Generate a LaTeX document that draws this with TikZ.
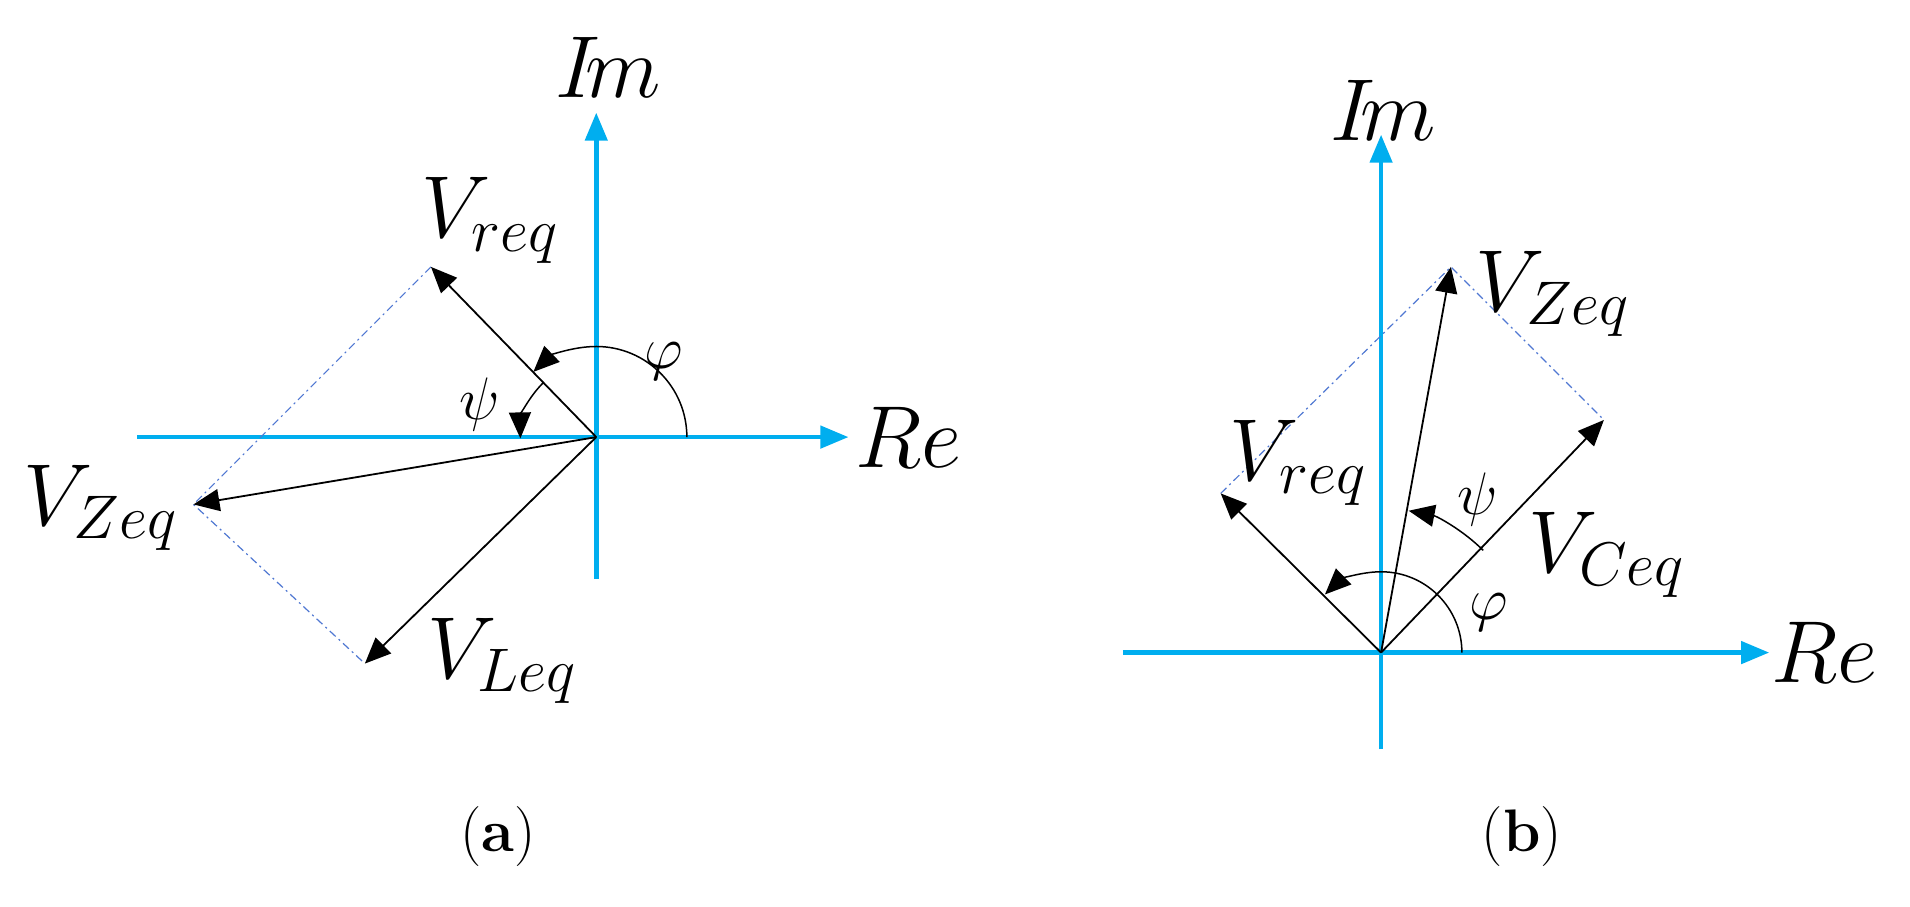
\documentclass[tikz,border=0pt]{standalone}
\usepackage{fix-cm}
\usetikzlibrary{arrows.meta}
\definecolor{axcol}{RGB}{0,174,239}
\definecolor{dshcol}{RGB}{80,120,210}
\begin{document}
\begin{tikzpicture}[x=1.2244pt,y=1.2244pt,
  axis/.style={axcol,line width=4.5pt,-{Triangle[length=28pt,width=22pt]}},
  vec/.style={black,line width=1.8pt,-{Triangle[length=26pt,width=22pt]}},
  arcar/.style={black,line width=1.5pt,-{Triangle[length=26pt,width=22pt]}},
  dshl/.style={dshcol,line width=1.2pt,dash pattern=on 8pt off 4pt on 2pt off 4pt},
  lbl/.style={font=\fontsize{88}{96}\selectfont,inner sep=0pt},
  grk/.style={font=\fontsize{60}{70}\selectfont,inner sep=0pt},
  captxt/.style={font=\fontsize{60}{70}\selectfont,inner sep=0pt}]
\useasboundingbox (0,0) rectangle (1560,740);
% ---------- (a)
\coordinate (Oa) at (487,383);
\coordinate (ImaS) at (487,267); \coordinate (ImaE) at (487,648);
\coordinate (ReaS) at (112,383); \coordinate (ReaE) at (693,383);
\coordinate (Ra) at (352,522); \coordinate (Za) at (158,328); \coordinate (La) at (298,198);
\draw[axis] (ImaS) -- (ImaE);
\draw[axis] (ReaS) -- (ReaE);
\draw[dshl] (Ra) -- (Za) -- (La);
\draw[vec] (Oa) -- (Ra);
\draw[vec] (Oa) -- (Za);
\draw[vec] (Oa) -- (La);
\draw[arcar] ([shift={(0:74)}]Oa) arc[start angle=0,end angle=134,radius=74];
\draw[arcar] ([shift={(134:62)}]Oa) arc[start angle=134,end angle=181,radius=62];
\node[lbl] (ima) at (497,685) {$I\!m$};
\node[lbl] (rea) at (742,383) {$Re$};
\node[lbl] (vra) at (400,560) {$V_{req}$};
\node[lbl] (vza) at (82,325) {$V_{Zeq}$};
\node[lbl] (vla) at (410,200) {$V_{Leq}$};
\node[grk] (psa) at (392,410) {$\psi$};
\node[grk] (pha) at (542,445) {$\varphi$};
\node[captxt] (ca) at (407,57) {(\textbf{a})};
% ---------- (b)
\coordinate (Ob) at (1128,207);
\coordinate (ImbS) at (1128,128); \coordinate (ImbE) at (1128,630);
\coordinate (RebS) at (917,207); \coordinate (RebE) at (1445,207);
\coordinate (Zb) at (1185,522); \coordinate (Cb) at (1310,397); \coordinate (Rb) at (997,337);
\draw[axis] (ImbS) -- (ImbE);
\draw[axis] (RebS) -- (RebE);
\draw[dshl] (Rb) -- (Zb) -- (Cb);
\draw[vec] (Ob) -- (Zb);
\draw[vec] (Ob) -- (Cb);
\draw[vec] (Ob) -- (Rb);
\draw[arcar] ([shift={(0:66)}]Ob) arc[start angle=0,end angle=134,radius=66];
\draw[arcar] ([shift={(45:118)}]Ob) arc[start angle=45,end angle=79,radius=118];
\node[lbl] (imb) at (1130,650) {$I\!m$};
\node[lbl] (reb) at (1490,207) {$Re$};
\node[lbl] (vzb) at (1268,500) {$V_{Zeq}$};
\node[lbl] (vcb) at (1312,287) {$V_{Ceq}$};
\node[lbl] (vrb) at (1060,362) {$V_{req}$};
\node[grk] (psb) at (1207,332) {$\psi$};
\node[grk] (phb) at (1216,240) {$\varphi$};
\node[captxt] (cb) at (1243,57) {(\textbf{b})};
\end{tikzpicture}
\end{document}
